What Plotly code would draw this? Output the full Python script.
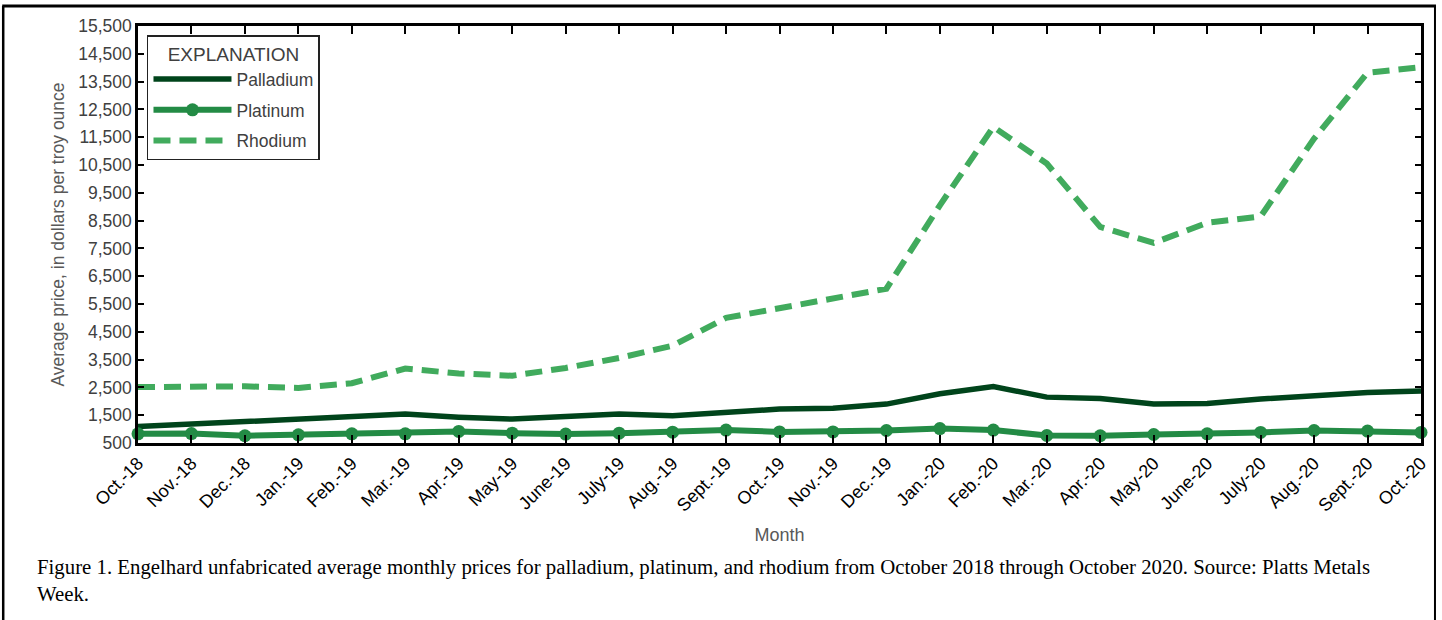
import plotly.graph_objects as go

months = ["Oct.-18", "Nov.-18", "Dec.-18", "Jan.-19", "Feb.-19", "Mar.-19", "Apr.-19",
          "May-19", "June-19", "July-19", "Aug.-19", "Sept.-19", "Oct.-19", "Nov.-19",
          "Dec.-19", "Jan.-20", "Feb.-20", "Mar.-20", "Apr.-20", "May-20", "June-20",
          "July-20", "Aug.-20", "Sept.-20", "Oct.-20"]

palladium = [1090, 1180, 1310, 1380, 1450, 1540, 1430, 1360, 1450, 1540, 1480, 1610, 1720,
             1750, 1900, 2270, 2530, 2150, 2100, 1900, 1920, 2080, 2210, 2320, 2370]
platinum = [830, 840, 760, 795, 830, 830, 915, 855, 820, 855, 890, 965, 900,
            900, 950, 1020, 965, 770, 760, 805, 830, 880, 950, 930, 880]
rhodium = [2510, 2510, 2540, 2480, 2650, 3180, 3000, 2920, 3200, 3560, 4000, 5000, 5360,
           5730, 6050, 9050, 11870, 10550, 8270, 7700, 8420, 8650, 11450, 13820, 14020]

y_ticks = list(range(500, 15501, 1000))
y_ticklabels = [f"{v:,}" for v in y_ticks]

W, H = 1442, 620
ML, MR, MT, MB = 138, 19, 26, 177
PW, PH = W - ML - MR, H - MT - MB

def px_x(p):
    return (p - ML) / PW

def px_y(p):
    return (H - MB - p) / PH

SANS = "Liberation Sans, Arial, sans-serif"

fig = go.Figure()
fig.add_trace(go.Scatter(x=months, y=palladium, name="Palladium", mode="lines", legendgroup="pd",
                         line=dict(color="#00441b", width=5.5), cliponaxis=False))
fig.add_trace(go.Scatter(x=months, y=platinum, name="Platinum", mode="lines+markers", legendgroup="pt",
                         line=dict(color="#238b45", width=6),
                         marker=dict(size=13, color="#238b45"), cliponaxis=False))
fig.add_trace(go.Scatter(x=months, y=rhodium, name="Rhodium", mode="lines", legendgroup="rh",
                         line=dict(color="#41ab5d", width=6, dash="17px,9px"), cliponaxis=False))

fig.update_layout(
    width=W, height=H,
    margin=dict(l=ML, r=MR, t=MT, b=MB, pad=0),
    paper_bgcolor="white", plot_bgcolor="white",
    showlegend=True,
    legend=dict(
        x=px_x(147), y=px_y(35), xanchor="left", yanchor="top",
        bordercolor="#222222", borderwidth=1.5, bgcolor="white",
        font=dict(family=SANS, size=17.5, color="#404040"),
        title=dict(text="EXPLANATION", side="top center",
                   font=dict(family=SANS, size=19, color="#404040")),
        tracegroupgap=5, itemwidth=78,
    ),
    xaxis=dict(
        type="category", range=[0, len(months) - 1],
        showgrid=False, showline=True, linecolor="black", linewidth=2.5,
        mirror="ticks", ticks="inside", ticklen=8, tickwidth=1.5, tickcolor="black",
        tickangle=-45,
        tickfont=dict(family=SANS, size=18, color="black"),
        title=dict(text="Month", standoff=14,
                   font=dict(family=SANS, size=18, color="#595959")),
    ),
    yaxis=dict(
        range=[500, 15500], tickvals=y_ticks, ticktext=y_ticklabels,
        showgrid=False, showline=True, linecolor="black", linewidth=2.5, zeroline=False,
        mirror="ticks", ticks="inside", ticklen=6, tickwidth=1.5, tickcolor="black",
        tickfont=dict(family=SANS, size=17.5, color="#404040"),
        title=dict(text="Average price, in dollars per troy ounce", standoff=10,
                   font=dict(family=SANS, size=17.5, color="#595959")),
    ),
    shapes=[
        dict(type="line", xref="paper", yref="paper", x0=px_x(2), x1=px_x(1438),
             y0=px_y(6), y1=px_y(6), line=dict(color="black", width=3)),
        dict(type="line", xref="paper", yref="paper", x0=px_x(3), x1=px_x(3),
             y0=px_y(6), y1=px_y(622), line=dict(color="black", width=2.5)),
        dict(type="line", xref="paper", yref="paper", x0=px_x(1437), x1=px_x(1437),
             y0=px_y(6), y1=px_y(622), line=dict(color="black", width=2)),
    ],
    annotations=[
        dict(xref="paper", yref="paper", x=px_x(35), y=px_y(553), xanchor="left", yanchor="top",
             align="left", showarrow=False,
             text="Figure 1. Engelhard unfabricated average monthly prices for palladium, platinum, and rhodium from October 2018 through October 2020. Source: Platts Metals<br>Week.",
             font=dict(family="Liberation Serif, Times New Roman, serif", size=20.8, color="black")),
    ],
)

fig.write_html("out.html", config={"displayModeBar": False},
               post_script="document.body.style.margin='0px';")
